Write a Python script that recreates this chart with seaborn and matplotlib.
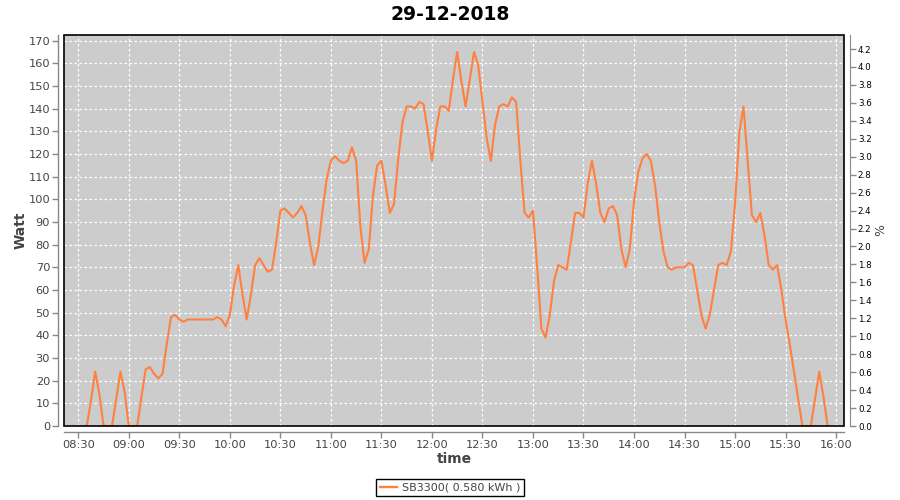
import matplotlib
matplotlib.use("Agg")
import matplotlib.pyplot as plt
import seaborn as sns
import pandas as pd
from matplotlib.patches import Rectangle
from matplotlib.lines import Line2D

# ---------------- data ----------------
title = "29-12-2018"
series_label = "SB3300( 0.580 kWh )"

times = ["08:30", "08:32:30", "08:35", "08:37:30", "08:40", "08:42:30", "08:45", "08:47:30", "08:50", "08:52:30",
         "08:55", "08:57:30", "09:00", "09:02:30", "09:05", "09:07:30", "09:10", "09:12:30", "09:15", "09:17:30",
         "09:20", "09:22:30", "09:25", "09:27:30", "09:30", "09:32:30", "09:35", "09:37:30", "09:40", "09:42:30",
         "09:45", "09:47:30", "09:50", "09:52:30", "09:55", "09:57:30", "10:00", "10:02:30", "10:05", "10:07:30",
         "10:10", "10:12:30", "10:15", "10:17:30", "10:20", "10:22:30", "10:25", "10:27:30", "10:30", "10:32:30",
         "10:35", "10:37:30", "10:40", "10:42:30", "10:45", "10:47:30", "10:50", "10:52:30", "10:55", "10:57:30",
         "11:00", "11:02:30", "11:05", "11:07:30", "11:10", "11:12:30", "11:15", "11:17:30", "11:20", "11:22:30",
         "11:25", "11:27:30", "11:30", "11:32:30", "11:35", "11:37:30", "11:40", "11:42:30", "11:45", "11:47:30",
         "11:50", "11:52:30", "11:55", "11:57:30", "12:00", "12:02:30", "12:05", "12:07:30", "12:10", "12:12:30",
         "12:15", "12:17:30", "12:20", "12:22:30", "12:25", "12:27:30", "12:30", "12:32:30", "12:35", "12:37:30",
         "12:40", "12:42:30", "12:45", "12:47:30", "12:50", "12:52:30", "12:55", "12:57:30", "13:00", "13:02:30",
         "13:05", "13:07:30", "13:10", "13:12:30", "13:15", "13:17:30", "13:20", "13:22:30", "13:25", "13:27:30",
         "13:30", "13:32:30", "13:35", "13:37:30", "13:40", "13:42:30", "13:45", "13:47:30", "13:50", "13:52:30",
         "13:55", "13:57:30", "14:00", "14:02:30", "14:05", "14:07:30", "14:10", "14:12:30", "14:15", "14:17:30",
         "14:20", "14:22:30", "14:25", "14:27:30", "14:30", "14:32:30", "14:35", "14:37:30", "14:40", "14:42:30",
         "14:45", "14:47:30", "14:50", "14:52:30", "14:55", "14:57:30", "15:00", "15:02:30", "15:05", "15:07:30",
         "15:10", "15:12:30", "15:15", "15:17:30", "15:20", "15:22:30", "15:25", "15:27:30", "15:30", "15:32:30",
         "15:35", "15:37:30", "15:40", "15:42:30", "15:45", "15:47:30", "15:50", "15:52:30", "15:55"]

watts = [0, 0, 0, 11, 24, 14, 0, 0, 0, 12,
         24, 15, 0, 0, 0, 13, 25, 26, 23, 21,
         23, 36, 48, 49, 47, 46, 47, 47, 47, 47,
         47, 47, 47, 48, 47, 44, 49, 62, 71, 58,
         47, 58, 71, 74, 71, 68, 69, 81, 95, 96,
         94, 92, 94, 97, 93, 81, 71, 79, 95, 109,
         117, 119, 117, 116, 117, 123, 117, 88, 72, 78,
         102, 115, 117, 106, 94, 98, 118, 134, 141, 141,
         140, 143, 142, 130, 117, 131, 141, 141, 139, 153,
         165, 152, 141, 153, 165, 159, 143, 127, 117, 133,
         141, 142, 141, 145, 143, 117, 94, 92, 95, 70,
         43, 39, 49, 64, 71, 70, 69, 81, 94, 94,
         92, 107, 117, 107, 94, 90, 96, 97, 93, 78,
         70, 78, 99, 112, 118, 120, 117, 106, 90, 77,
         70, 69, 70, 70, 70, 72, 71, 60, 49, 43,
         49, 60, 71, 72, 71, 77, 98, 129, 141, 117,
         93, 90, 94, 84, 71, 69, 71, 60, 47, 36,
         24, 12, 0, 0, 0, 12, 24, 13, 0]

x_tick_labels = ["08:30", "09:00", "09:30", "10:00", "10:30", "11:00", "11:30", "12:00",
                 "12:30", "13:00", "13:30", "14:00", "14:30", "15:00", "15:30", "16:00"]
watt_ticks = [0, 10, 20, 30, 40, 50, 60, 70, 80, 90, 100, 110, 120, 130, 140, 150, 160, 170]
pct_ticks = [0.0, 0.2, 0.4, 0.6, 0.8, 1.0, 1.2, 1.4, 1.6, 1.8, 2.0, 2.2, 2.4, 2.6, 2.8,
             3.0, 3.2, 3.4, 3.6, 3.8, 4.0, 4.2]


def to_min(s):
    parts = [int(p) for p in s.split(":")]
    h, m = parts[0], parts[1]
    sec = parts[2] if len(parts) > 2 else 0
    return h * 60 + m + sec / 60.0 - 510  # minutes since 08:30


df = pd.DataFrame({"t": [to_min(s) for s in times], "watt": watts})

LINE_COLOR = "#ff8040"
AXIS_GRAY = "#888888"
TEXT_GRAY = "#444444"

fig = plt.figure(figsize=(9, 5), dpi=100, facecolor="white")
ax = fig.add_axes([64 / 900, 74 / 500, 780 / 900, 391 / 500])
ax.set_facecolor("#cccccc")

sns.lineplot(data=df, x="t", y="watt", ax=ax, color=LINE_COLOR, linewidth=1.5,
             legend=False, zorder=3)

ax.set_xlim(-8.5, 454.7)
ax.set_ylim(0, 172.5)
ax.set_xticks([to_min(s) for s in x_tick_labels])
ax.set_xticklabels(x_tick_labels)
ax.set_yticks(watt_ticks)
ax.set_yticklabels([str(v) for v in watt_ticks])

ax.set_axisbelow(True)
ax.grid(True, color="white", linestyle=(0, (2, 2)), linewidth=0.9)

for side in ["top", "right"]:
    ax.spines[side].set_visible(False)
for side in ["left", "bottom"]:
    ax.spines[side].set_position(("outward", 4))
    ax.spines[side].set_color(AXIS_GRAY)
    ax.spines[side].set_linewidth(1)

ax.tick_params(axis="both", direction="out", length=4, width=1, color=AXIS_GRAY,
               labelcolor=TEXT_GRAY, labelsize=8.2, pad=2)

ax.add_patch(Rectangle((0, 0), 1, 1, transform=ax.transAxes, fill=False,
                       edgecolor="black", linewidth=1.2, zorder=6, clip_on=False))

ax.set_xlabel("time", fontsize=10, color=TEXT_GRAY, fontweight="bold")
ax.xaxis.set_label_coords(0.5, (426 - 459) / 391)
ax.xaxis.label.set_va("center")
ax.set_ylabel("Watt", fontsize=10, color=TEXT_GRAY, fontweight="bold")
ax.yaxis.set_label_coords((21 - 64) / 780, 0.5)
ax.yaxis.label.set_va("center")

ax2 = ax.twinx()
ax2.set_ylim(0, 4.356)
ax2.set_yticks(pct_ticks)
ax2.set_yticklabels([f"{v:.1f}" for v in pct_ticks])
for side in ["top", "left", "bottom"]:
    ax2.spines[side].set_visible(False)
ax2.spines["right"].set_position(("outward", 4))
ax2.spines["right"].set_color(AXIS_GRAY)
ax2.tick_params(axis="y", direction="out", length=4, width=1, color=AXIS_GRAY,
                labelcolor="black", labelsize=6.3, pad=2)
ax2.set_ylabel("%", fontsize=9, color=TEXT_GRAY)
ax2.yaxis.set_label_coords((881 - 64) / 780, 0.5)
ax2.yaxis.label.set_va("center")

fig.text(0.5, 1 - 15 / 500, title, ha="center", va="center", fontsize=13.5,
         fontweight="bold", color="black")

handle = Line2D([0], [0], color=LINE_COLOR, linewidth=1.7)
leg = fig.legend([handle], [series_label], loc="center", bbox_to_anchor=(0.5, 0.025),
                 frameon=True, fancybox=False, edgecolor="black", framealpha=1,
                 fontsize=8, handlelength=1.6, handletextpad=0.4, borderpad=0.35,
                 labelcolor=TEXT_GRAY)
leg.get_frame().set_linewidth(1)

fig.savefig("out.png", dpi=100, facecolor="white")
